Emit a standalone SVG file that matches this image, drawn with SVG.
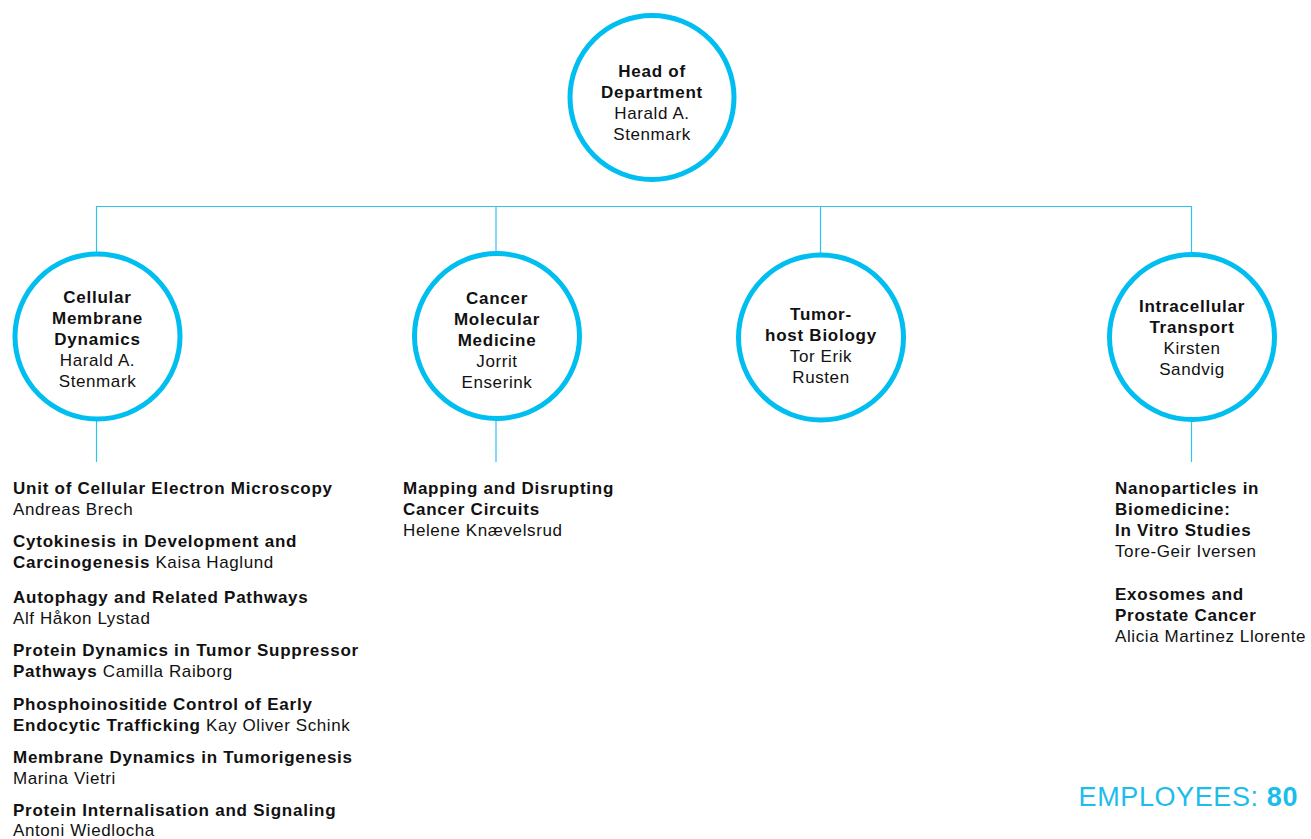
<svg xmlns="http://www.w3.org/2000/svg" width="1311" height="839" viewBox="0 0 1311 839">
<style>
.c{fill:#fff;stroke:#00BEF0;stroke-width:5}
.l{stroke:#2EC4F0;stroke-width:1.2;fill:none}
text{font-family:"Liberation Sans",Arial,Helvetica,sans-serif;font-size:17px;fill:#111;letter-spacing:0.6px}
.ct{text-anchor:middle}
.b{font-weight:bold;letter-spacing:0.75px}
.emp{font-size:27px;fill:#1BBDEB;text-anchor:end;letter-spacing:0.6px}
</style>
<rect width="1311" height="839" fill="#fff"/>
<g id="connectors">
<path class="l" d="M96.5 206.5H1191.5"/>
<path class="l" d="M96.5 206V252M496 206V252M820.5 206V253M1191.5 206V252"/>
<path class="l" d="M96.5 420V462M496 420V462M1191.5 421V462"/>
</g>
<g id="head">
<circle class="c" cx="652" cy="97.5" r="82"/>
<text class="ct" x="652"><tspan class="b" x="652" y="77">Head of</tspan><tspan class="b" x="652" y="98">Department</tspan><tspan x="652" y="119">Harald A.</tspan><tspan x="652" y="140">Stenmark</tspan></text>
</g>
<g id="cmd">
<circle class="c" cx="97.5" cy="336.5" r="82.5"/>
<text class="ct"><tspan class="b" x="97.5" y="303">Cellular</tspan><tspan class="b" x="97.5" y="324">Membrane</tspan><tspan class="b" x="97.5" y="345">Dynamics</tspan><tspan x="97.5" y="366">Harald A.</tspan><tspan x="97.5" y="387">Stenmark</tspan></text>
</g>
<g id="cmm">
<circle class="c" cx="497" cy="336" r="82.5"/>
<text class="ct"><tspan class="b" x="497" y="304">Cancer</tspan><tspan class="b" x="497" y="325">Molecular</tspan><tspan class="b" x="497" y="346">Medicine</tspan><tspan x="497" y="367">Jorrit</tspan><tspan x="497" y="388">Enserink</tspan></text>
</g>
<g id="thb">
<circle class="c" cx="821" cy="337.5" r="82.5"/>
<text class="ct"><tspan class="b" x="821" y="320">Tumor-</tspan><tspan class="b" x="821" y="341">host Biology</tspan><tspan x="821" y="362">Tor Erik</tspan><tspan x="821" y="383">Rusten</tspan></text>
</g>
<g id="it">
<circle class="c" cx="1192" cy="337" r="82.5"/>
<text class="ct"><tspan class="b" x="1192" y="312">Intracellular</tspan><tspan class="b" x="1192" y="333">Transport</tspan><tspan x="1192" y="354">Kirsten</tspan><tspan x="1192" y="375">Sandvig</tspan></text>
</g>
<g id="cmd-groups">
<text x="13" y="494" class="b">Unit of Cellular Electron Microscopy</text>
<text x="13" y="515">Andreas Brech</text>
<text x="13" y="547" class="b">Cytokinesis in Development and</text>
<text x="13" y="568"><tspan class="b">Carcinogenesis</tspan> Kaisa Haglund</text>
<text x="13" y="603" class="b">Autophagy and Related Pathways</text>
<text x="13" y="624">Alf Håkon Lystad</text>
<text x="13" y="656" class="b">Protein Dynamics in Tumor Suppressor</text>
<text x="13" y="677"><tspan class="b">Pathways</tspan> Camilla Raiborg</text>
<text x="13" y="710" class="b">Phosphoinositide Control of Early</text>
<text x="13" y="731"><tspan class="b">Endocytic Trafficking</tspan> Kay Oliver Schink</text>
<text x="13" y="763" class="b">Membrane Dynamics in Tumorigenesis</text>
<text x="13" y="784">Marina Vietri</text>
<text x="13" y="816" class="b">Protein Internalisation and Signaling</text>
<text x="13" y="836">Antoni Wiedlocha</text>
</g>
<g id="cmm-groups">
<text x="403" y="494" class="b">Mapping and Disrupting</text>
<text x="403" y="515" class="b">Cancer Circuits</text>
<text x="403" y="536">Helene Knævelsrud</text>
</g>
<g id="it-groups">
<text x="1115" y="494" class="b">Nanoparticles in</text>
<text x="1115" y="515" class="b">Biomedicine:</text>
<text x="1115" y="536" class="b">In Vitro Studies</text>
<text x="1115" y="557">Tore-Geir Iversen</text>
<text x="1115" y="600" class="b">Exosomes and</text>
<text x="1115" y="621" class="b">Prostate Cancer</text>
<text x="1115" y="642">Alicia Martinez Llorente</text>
</g>
<g id="employees">
<text class="emp" x="1298" y="806">EMPLOYEES: <tspan class="b" style="letter-spacing:0.6px">80</tspan></text>
</g>
</svg>
